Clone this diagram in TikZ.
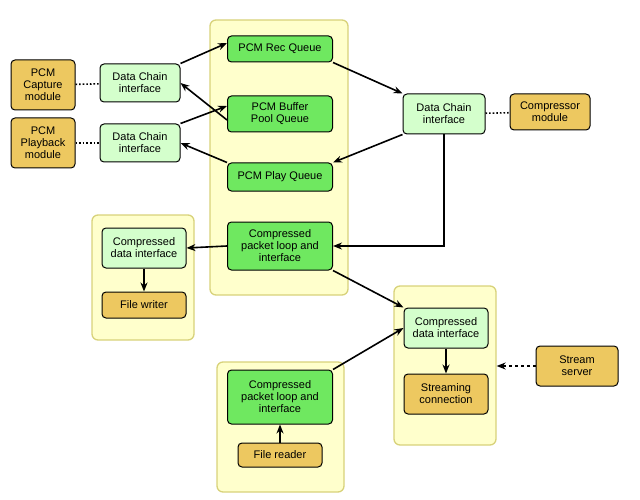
\documentclass[tikz,border=0pt]{standalone}
\usepackage{fontspec}
\setmainfont{Liberation Sans}
\usetikzlibrary{arrows.meta, positioning}
\definecolor{panelfill}{HTML}{FFFFCC}
\definecolor{paneldraw}{HTML}{D8D27A}
\definecolor{modfill}{HTML}{EDC860}
\definecolor{qfill}{HTML}{6FE860}
\definecolor{ifill}{HTML}{D4FFCC}
\tikzset{
  box/.style={draw, line width=1pt, rounded corners=4pt, align=center, inner sep=1pt,
    font=\fontsize{11}{12}\selectfont},
  module/.style={box, fill=modfill},
  queue/.style={box, fill=qfill, minimum width=105pt},
  iface/.style={box, fill=ifill},
  panel/.style={draw=paneldraw, fill=panelfill, rounded corners=6pt, line width=1.3pt},
  link/.style={-{Stealth[length=9pt, width=7pt]}, line width=1.6pt},
  tie/.style={line width=1.6pt, dotted}
}
\begin{document}
\begin{tikzpicture}[x=1pt, y=-1pt]
    \useasboundingbox (0,0) rectangle (640,500);

    \node[panel, minimum width=138pt, minimum height=275pt] at (279,157.5) (p1) {};
    \node[panel, minimum width=102pt, minimum height=125pt] at (143,277.5) (p2) {};
    \node[panel, minimum width=102pt, minimum height=159pt] at (445,365.5) (p3) {};
    \node[panel, minimum width=127pt, minimum height=130pt] at (280.5,427) (p4) {};

    \node[module, minimum width=64pt, minimum height=50pt] at (43,85)  (cap) {PCM\\Capture\\module};
    \node[module, minimum width=64pt, minimum height=50pt] at (43,143) (play) {PCM\\Playback\\module};
    \node[iface, minimum width=80pt, minimum height=38pt] at (140,83)  (dca) {Data Chain\\interface};
    \node[iface, minimum width=80pt, minimum height=38pt] at (140,143) (dcb) {Data Chain\\interface};

    \node[queue, minimum height=26pt] at (280,49)  (rec) {PCM Rec Queue};
    \node[queue, minimum height=36pt] at (280,114) (pool) {PCM Buffer\\Pool Queue};
    \node[queue, minimum height=28pt] at (280,177) (plq) {PCM Play Queue};
    \node[queue, minimum height=48pt] at (280,246) (cpt) {Compressed\\packet loop and\\interface};

    \node[iface, minimum width=82pt, minimum height=40pt] at (444,114) (dcc) {Data Chain\\interface};
    \node[module, minimum width=80pt, minimum height=36pt] at (550,112) (comp) {Compressor\\module};

    \node[iface, minimum width=84pt, minimum height=40pt] at (144,248) (cdl) {Compressed\\data interface};
    \node[module, minimum width=84pt, minimum height=26pt] at (144,305) (fw) {File writer};

    \node[iface, minimum width=84pt, minimum height=40pt] at (446,328) (cdr) {Compressed\\data interface};
    \node[module, minimum width=84pt, minimum height=40pt] at (446,394) (sc) {Streaming\\connection};
    \node[module, minimum width=82pt, minimum height=40pt] at (577,366) (ss) {Stream\\server};

    \node[queue, minimum height=54pt] at (280,397) (cpb) {Compressed\\packet loop and\\interface};
    \node[module, minimum width=84pt, minimum height=24pt] at (280,455) (fr) {File reader};

    \draw[tie] (cap) -- (dca);
    \draw[tie] (play) -- (dcb);
    \draw[tie] (dcc) -- (comp);

    \draw[link] (dca.north east) -- ([yshift=6pt]rec.west);
    \draw[link] ([yshift=-6pt]pool.west) -- (dca.east);
    \draw[link] (dcb.north east) -- ([yshift=8pt]pool.west);
    \draw[link] (plq.north west) -- (dcb.east);
    \draw[link] (rec.south east) -- (dcc.north west);
    \draw[link] (dcc.south west) -- (plq.north east);
    \draw[link] (dcc.south) |- (cpt.east);
    \draw[link] (cpt.west) -- (cdl.east);
    \draw[link] (cdl) -- (fw);
    \draw[link] (cpt.south east) -- (cdr.north west);
    \draw[link] (cpb.north east) -- (cdr.west);
    \draw[link] (fr) -- (cpb);
    \draw[link] (cdr) -- (sc);
    \draw[link, dashed] (ss.west) -- (ss.west -| p3.east);
\end{tikzpicture}
\end{document}
